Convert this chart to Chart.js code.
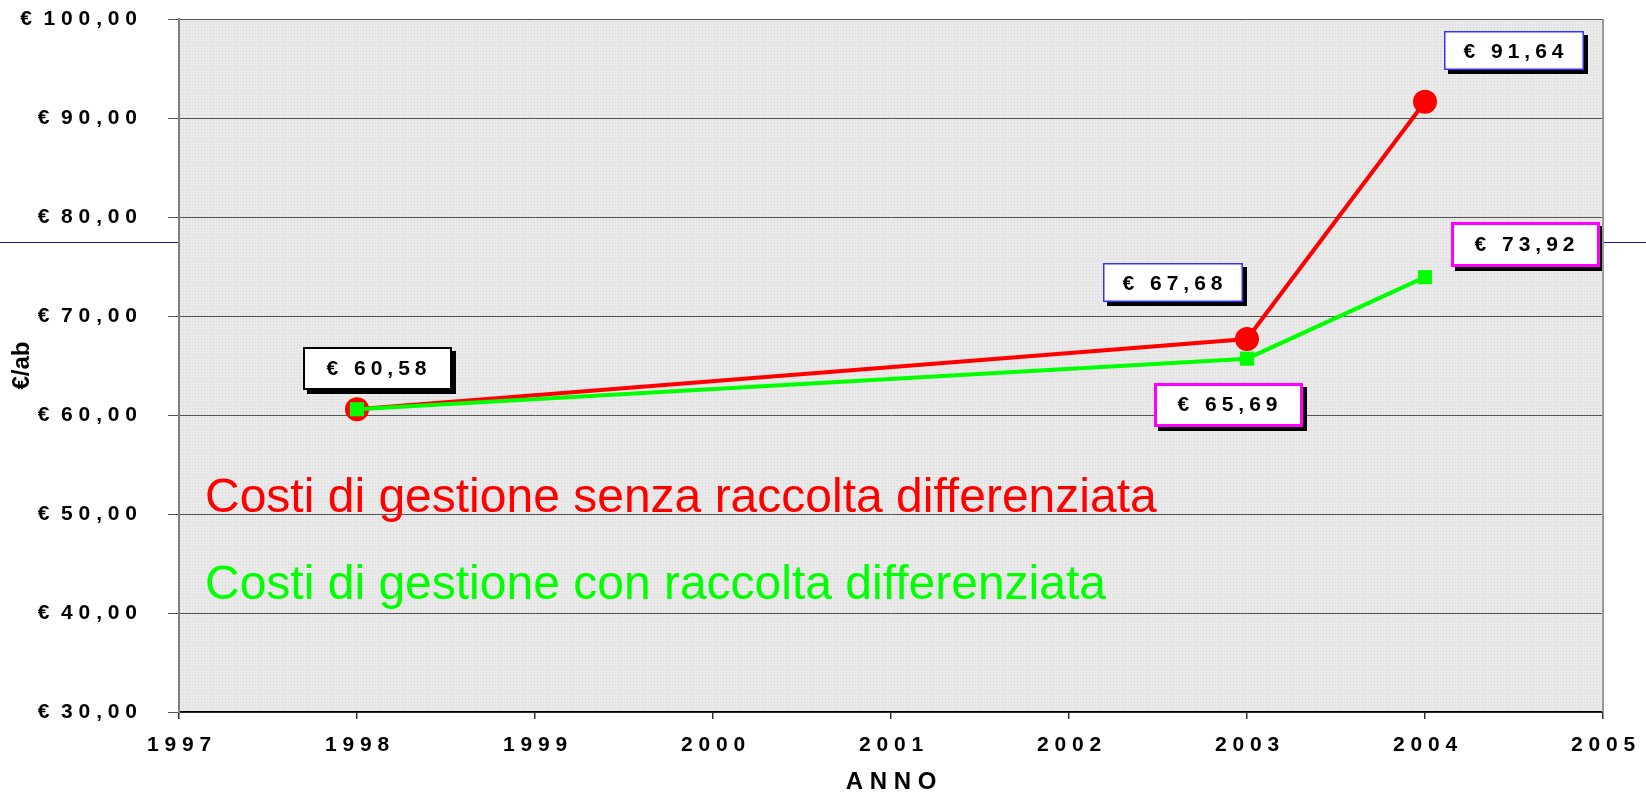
<!DOCTYPE html>
<html>
<head>
<meta charset="utf-8">
<title>Costi di gestione</title>
<script src="https://cdn.jsdelivr.net/npm/chart.js@4.4.0/dist/chart.umd.min.js"></script>
<style>
  body { margin: 0; background: #fff; }
  #wrap { width: 1646px; height: 800px; }
</style>
</head>
<body>
<div id="wrap"><canvas id="costChart"></canvas></div>
<script>
// data
const years = [1998, 2003, 2004];
const senzaRaccolta = [60.58, 67.68, 91.64];
const conRaccolta = [60.58, 65.69, 73.92];
const yTickValues = [30, 40, 50, 60, 70, 80, 90, 100];
const xTickValues = [1997, 1998, 1999, 2000, 2001, 2002, 2003, 2004, 2005];

const spaced = s => s.split('').join(' ');
const euro = v => '€ ' + v.toFixed(2).replace('.', ',');

// dotted gray fill for the plot area
function makePattern(ctx) {
    const c = document.createElement('canvas');
    c.width = 3; c.height = 3;
    const p = c.getContext('2d');
    p.fillStyle = '#e9e9e9';
    p.fillRect(0, 0, 3, 3);
    p.fillStyle = '#d6d6d6';
    p.fillRect(0, 0, 1, 1);
    return ctx.createPattern(c, 'repeat');
}

const backgroundPlugin = {
    id: 'plotBackground',
    beforeDraw(chart) {
        const { ctx, chartArea: a, scales: { y } } = chart;
        ctx.save();
        // thin blue line running across the slide behind the plot
        ctx.strokeStyle = '#1a1a9a';
        ctx.lineWidth = 1;
        const yLine = Math.round(y.getPixelForValue(77.5)) + 0.5;
        ctx.beginPath();
        ctx.moveTo(0, yLine);
        ctx.lineTo(chart.width, yLine);
        ctx.stroke();
        ctx.fillStyle = makePattern(ctx);
        ctx.fillRect(a.left, a.top, a.right - a.left, a.bottom - a.top);
        ctx.restore();
    },
    afterDraw(chart) {
        const { ctx, chartArea: a } = chart;
        ctx.save();
        ctx.strokeStyle = '#9a9a9a';
        ctx.lineWidth = 2;
        ctx.beginPath();
        ctx.moveTo(a.right, a.top);
        ctx.lineTo(a.right, a.bottom);
        ctx.stroke();
        ctx.restore();
    }
};

// value boxes next to the points
const callouts = [
    { ds: 0, i: 0, dx: 20, dy: -41, w: 149, h: 43, border: '#000000', bw: 2 },
    { ds: 0, i: 1, dx: -74, dy: -56, w: 140, h: 39, border: '#3333ff', bw: 1.5 },
    { ds: 0, i: 2, dx: 89, dy: -51, w: 140, h: 39, border: '#3333ff', bw: 1.5 },
    { ds: 1, i: 1, dx: -19, dy: 46, w: 149, h: 44, border: '#ff00ff', bw: 3 },
    { ds: 1, i: 2, dx: 100, dy: -33, w: 149, h: 45, border: '#ff00ff', bw: 3 }
];

const calloutPlugin = {
    id: 'callouts',
    afterDatasetsDraw(chart) {
        const { ctx } = chart;
        const byId = { 0: senzaRaccolta, 1: conRaccolta };
        ctx.save();
        callouts.forEach(c => {
            const pt = chart.getDatasetMeta(c.ds === 0 ? 1 : 0).data[c.i];
            const cx = pt.x + c.dx, cy = pt.y + c.dy;
            const x0 = Math.round(cx - c.w / 2), y0 = Math.round(cy - c.h / 2);
            ctx.fillStyle = '#000';
            ctx.fillRect(x0 + 4, y0 + 4, c.w, c.h);
            ctx.fillStyle = '#fff';
            ctx.fillRect(x0, y0, c.w, c.h);
            ctx.strokeStyle = c.border;
            ctx.lineWidth = c.bw;
            ctx.strokeRect(x0 + c.bw / 2, y0 + c.bw / 2, c.w - c.bw, c.h - c.bw);
            ctx.fillStyle = '#000';
            ctx.font = 'bold 21px "Liberation Sans", Arial, sans-serif';
            ctx.letterSpacing = '5px';
            ctx.textAlign = 'center';
            ctx.textBaseline = 'middle';
            ctx.fillText(euro(byId[c.ds][c.i]), cx + 2, cy + 1);
        });
        ctx.letterSpacing = '0px';
        ctx.restore();
    }
};

const captionPlugin = {
    id: 'captions',
    afterDatasetsDraw(chart) {
        const { ctx, chartArea: a, scales: { y } } = chart;
        ctx.save();
        ctx.font = '48px "Liberation Sans", Arial, sans-serif';
        ctx.textAlign = 'left';
        ctx.textBaseline = 'alphabetic';
        ctx.fillStyle = '#ff0000';
        ctx.fillText('Costi di gestione senza raccolta differenziata', a.left + 26, y.getPixelForValue(50.2));
        ctx.fillStyle = '#00ff00';
        ctx.fillText('Costi di gestione con raccolta differenziata', a.left + 26, y.getPixelForValue(41.4));
        ctx.restore();
    }
};

const tickFont = { family: '"Liberation Sans", Arial, sans-serif', size: 21, weight: 'bold' };

new Chart(document.getElementById('costChart'), {
    type: 'line',
    data: {
        datasets: [
            {
                label: 'Costi di gestione con raccolta differenziata',
                data: years.map((yr, i) => ({ x: yr, y: conRaccolta[i] })),
                borderColor: '#00ff00',
                backgroundColor: '#00ff00',
                borderWidth: 4,
                pointStyle: 'rect',
                pointRadius: 10,
                pointHoverRadius: 10,
                pointBorderWidth: 0,
                order: 1
            },
            {
                label: 'Costi di gestione senza raccolta differenziata',
                data: years.map((yr, i) => ({ x: yr, y: senzaRaccolta[i] })),
                borderColor: '#ff0000',
                backgroundColor: '#ff0000',
                borderWidth: 4,
                pointStyle: 'circle',
                pointRadius: 12,
                pointHoverRadius: 12,
                pointBorderWidth: 0,
                order: 2
            }
        ]
    },
    options: {
        responsive: true,
        maintainAspectRatio: false,
        animation: false,
        layout: { padding: { top: 19, right: 43, left: 0, bottom: 0 } },
        plugins: {
            legend: { display: false },
            tooltip: { enabled: false }
        },
        scales: {
            x: {
                type: 'linear',
                min: 1997,
                max: 2005,
                afterFit: s => { s.height = 88; s.paddingLeft = 0; s.paddingRight = 0; },
                afterBuildTicks: s => { s.ticks = xTickValues.map(v => ({ value: v })); },
                ticks: {
                    color: '#000',
                    font: tickFont,
                    padding: 14,
                    maxRotation: 0,
                    callback: v => spaced(String(v))
                },
                grid: { drawOnChartArea: false, drawTicks: true, tickLength: 7, color: '#333', lineWidth: 1.5 },
                border: { color: '#000', width: 1.5 },
                title: {
                    display: true,
                    text: 'A N N O',
                    color: '#000',
                    font: { family: '"Liberation Sans", Arial, sans-serif', size: 24, weight: 'bold' },
                    padding: { top: 0, bottom: 3 }
                }
            },
            y: {
                min: 30,
                max: 100,
                afterFit: s => { s.width = 179; s.paddingTop = 0; s.paddingBottom = 0; },
                afterBuildTicks: s => { s.ticks = yTickValues.map(v => ({ value: v })); },
                ticks: {
                    color: '#000',
                    font: tickFont,
                    padding: 31,
                    callback: v => '€  ' + spaced(v.toFixed(2).replace('.', ','))
                },
                grid: { color: '#555', lineWidth: 1, tickLength: 11, drawTicks: true },
                border: { color: '#808080', width: 2 },
                title: {
                    display: true,
                    text: '€/ab',
                    color: '#000',
                    font: { family: '"Liberation Sans", Arial, sans-serif', size: 24, weight: 'bold' },
                    padding: { top: 8, bottom: 0 }
                }
            }
        }
    },
    plugins: [backgroundPlugin, captionPlugin, calloutPlugin]
});
</script>
</body>
</html>
